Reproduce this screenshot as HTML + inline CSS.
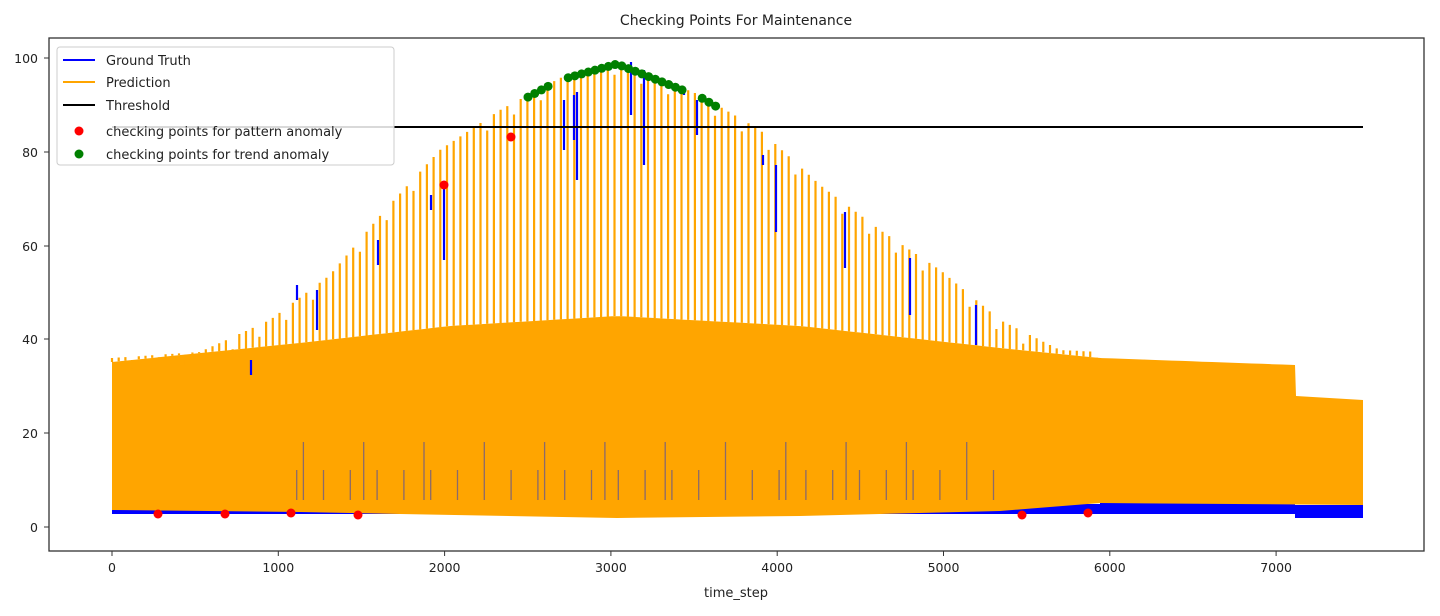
<!DOCTYPE html>
<html><head><meta charset="utf-8"><style>
body{margin:0;background:#fff;width:1440px;height:611px;overflow:hidden;font-family:"Liberation Sans","DejaVu Sans",sans-serif}
svg text{font-family:"DejaVu Sans","Liberation Sans",sans-serif;fill:#222}
</style></head><body>
<svg id="s" width="1440" height="611" xmlns="http://www.w3.org/2000/svg">
<rect width="1440" height="611" fill="#fff"/>
<text x="736" y="25" font-size="14" text-anchor="middle">Checking Points For Maintenance</text>
<g id="data"></g>
<rect x="49" y="38" width="1375" height="513" fill="none" stroke="#333" stroke-width="1.3"/>
<g font-size="12.5" text-anchor="end">
<text x="38" y="532">0</text><text x="38" y="438">20</text><text x="38" y="344">40</text>
<text x="38" y="251">60</text><text x="38" y="157">80</text><text x="38" y="63">100</text>
</g>
<g stroke="#333"><line x1="44" x2="49" y1="527" y2="527"/><line x1="44" x2="49" y1="433" y2="433"/><line x1="44" x2="49" y1="339" y2="339"/><line x1="44" x2="49" y1="246" y2="246"/><line x1="44" x2="49" y1="152" y2="152"/><line x1="44" x2="49" y1="58" y2="58"/></g>
<g id="xt" font-size="12.5" text-anchor="middle"></g>
<text x="736" y="597" font-size="13" text-anchor="middle">time_step</text>
<g>
<rect x="57" y="47" width="337" height="118" rx="3" fill="#fff" fill-opacity="0.85" stroke="#ccc"/>
<line x1="63" x2="95" y1="60" y2="60" stroke="#00f" stroke-width="2"/>
<line x1="63" x2="95" y1="82" y2="82" stroke="#ffa500" stroke-width="2"/>
<line x1="63" x2="95" y1="105" y2="105" stroke="#000" stroke-width="2"/>
<circle cx="79" cy="131" r="4.5" fill="#f00"/><circle cx="79" cy="154" r="4.5" fill="#008000"/>
<g font-size="13"><text x="106" y="65">Ground Truth</text><text x="106" y="87">Prediction</text><text x="106" y="110">Threshold</text><text x="106" y="136">checking points for pattern anomaly</text><text x="106" y="159">checking points for trend anomaly</text></g>
</g>
</svg>
<script>
var NS="http://www.w3.org/2000/svg",g=document.getElementById("data");
function el(t,a){var e=document.createElementNS(NS,t);for(var k in a)e.setAttribute(k,a[k]);g.appendChild(e);return e;}
function interp(pts,x){for(var i=0;i<pts.length-1;i++){if(x<=pts[i+1][0]){var a=pts[i],b=pts[i+1];return a[1]+(b[1]-a[1])*(x-a[0])/(b[0]-a[0]);}}return pts[pts.length-1][1];}
var env=[[112,358],[200,352],[270,320],[330,275],[385,210],[440,150],[500,110],[560,78],[617,62],[700,95],[760,130],[820,185],[880,230],[940,270],[1000,320],[1060,350],[1100,352]];
var body=[[112,362],[300,343],[450,326],[617,316],[800,326],[1000,348],[1100,358],[1295,365]];
// blue base bands
el("rect",{x:112,y:504,width:990,height:10,fill:"#00f"});
el("rect",{x:1100,y:503,width:195,height:11,fill:"#00f"});
el("rect",{x:1295,y:505,width:68,height:13,fill:"#00f"});
// body fill
var d="M112,510 ";for(var x=112;x<=1295;x+=10)d+="L"+x+","+interp(body,x).toFixed(1)+" ";
d+="L1295,365 L1296,396 L1363,400 L1363,505 L1100,503 L1000,511 L800,516 L617,518 L400,514 L300,512 L112,510 Z";
el("path",{d:d,fill:"#ffa500"});
// spikes
var p="";for(var x=112;x<=1102;x+=6.7){var y=interp(env,x);var h=((x*7)%11<2)?12:0;p+="M"+x.toFixed(1)+","+(y+h).toFixed(1)+"V"+interp(body,x).toFixed(1);}
el("path",{d:p,stroke:"#ffa500","stroke-width":2.2,fill:"none"});
// small dark spikes in lower body
var q="";for(var x=290;x<=1000;x+=6.7){var hh=(Math.floor(x/6.7)%9==0)?58:((Math.floor(x/6.7)%4==0)?30:0);if(hh)q+="M"+x.toFixed(1)+","+(500-hh)+"V500";}
el("path",{d:q,stroke:"#8a6a6a","stroke-width":1.3,fill:"none"});
// blue spikes
[[251,360,375],[297,285,300],[317,290,330],[378,240,265],[431,195,210],[444,185,260],[564,100,150],[574,95,140],[577,92,180],[631,62,115],[644,70,165],[684,88,95],[697,100,135],[763,155,165],[776,165,232],[845,212,268],[910,258,315],[976,305,345]].forEach(function(b){el("line",{x1:b[0],x2:b[0],y1:b[1],y2:b[2],stroke:"#00f","stroke-width":2.2});});
// threshold
el("line",{x1:112,x2:1363,y1:127,y2:127,stroke:"#000","stroke-width":2});
// red dots
[[158,514],[225,514],[291,513],[358,515],[444,185],[511,137],[1022,515],[1088,513]].forEach(function(c){el("circle",{cx:c[0],cy:c[1],r:4.5,fill:"#f00"});});
// green dots
for(var x=528;x<=722;x+=6.7){var y=interp(env,x);if(y<=126&&!(x>553&&x<562)&&!(x>686&&x<696))el("circle",{cx:x,cy:y+2,r:4.5,fill:"#008000"});}
// x ticks
var xt=document.getElementById("xt");
for(var i=0;i<=7;i++){var X=112+i*166.3;var l=document.createElementNS(NS,"line");l.setAttribute("x1",X);l.setAttribute("x2",X);l.setAttribute("y1",551);l.setAttribute("y2",556);l.setAttribute("stroke","#333");xt.appendChild(l);var t=document.createElementNS(NS,"text");t.setAttribute("x",X);t.setAttribute("y",572);t.textContent=i*1000;xt.appendChild(t);}
</script>
</body></html>
